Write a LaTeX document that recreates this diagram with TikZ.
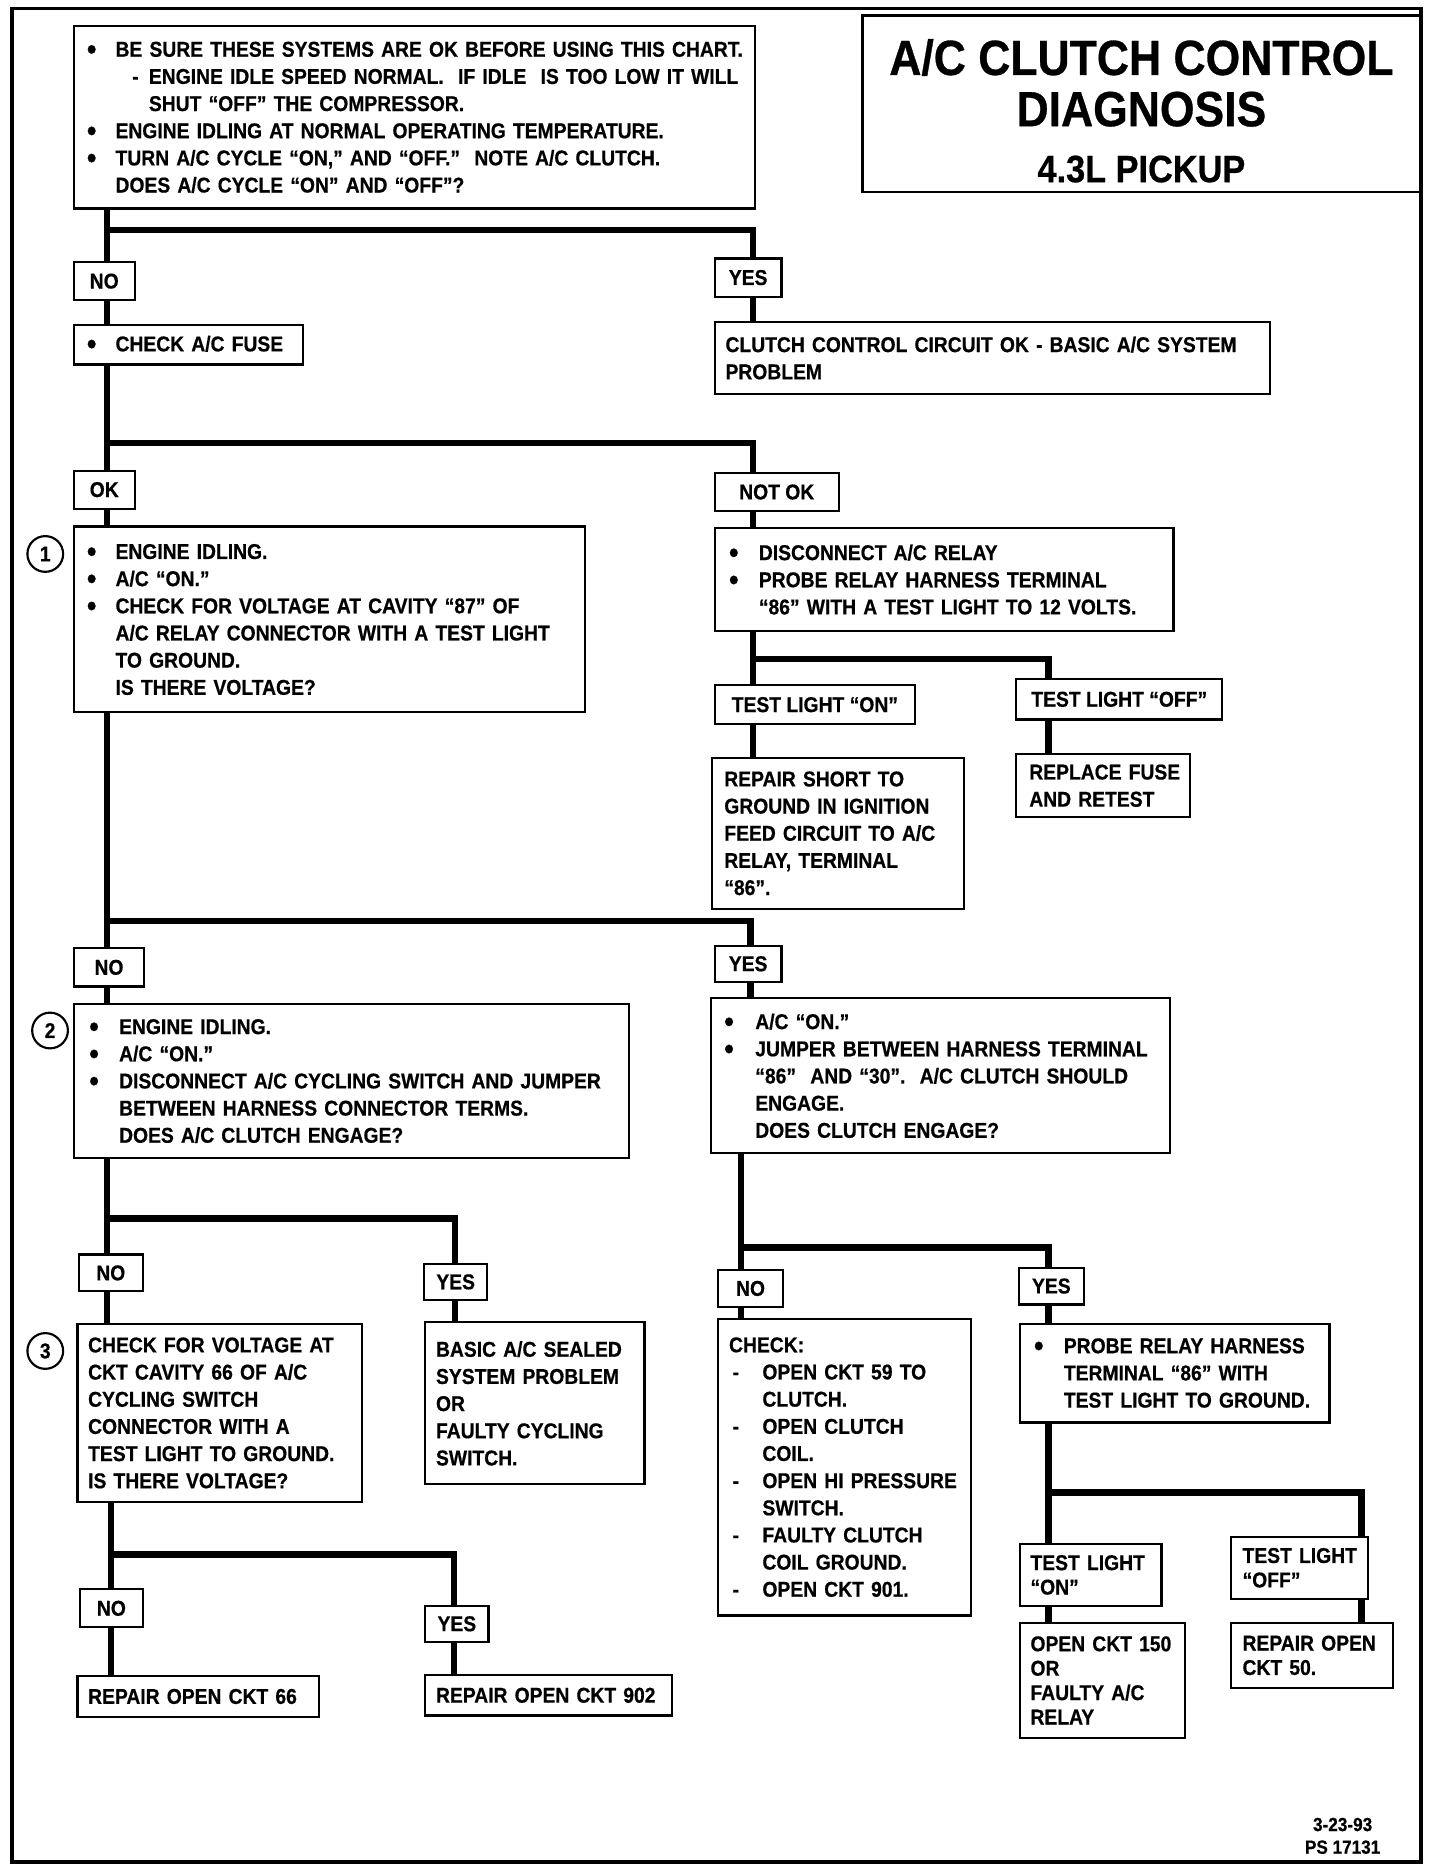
\documentclass[tikz,border=0pt]{standalone}
\usepackage{fontspec}
\usepackage{graphicx}
\setmainfont{Liberation Sans}[FakeStretch=0.9, BoldFeatures={FakeBold=0.6}]
\usetikzlibrary{calc}
\pgfdeclarelayer{bg}
\pgfsetlayers{bg,main}
\newcommand\bul[1][24]{\makebox[#1pt][l]{\raisebox{-2.2pt}{\scalebox{1.4}{•}}}}
\newcommand\ind[1][24]{\hspace*{#1pt}}
\newcommand\dsh{\hspace*{3pt}\makebox[25pt][l]{-}}
\newcommand\bt[2]{\leftskip=#1pt\relax #2\par}
\begin{document}
\begin{tikzpicture}[x=1pt,y=-1pt,
  txt/.style={font=\bfseries\fontsize{18}{22.8}\selectfont},
  tight/.style={font=\bfseries\fontsize{18}{20.5}\selectfont},
  box/.style={txt, draw, fill=white, line width=1.8pt, anchor=north west, inner sep=0pt, outer sep=0pt, align=left},
  lbl/.style={txt, draw, fill=white, line width=1.8pt, anchor=north west, inner sep=0pt, outer sep=0pt, align=center},
  trunk/.style={line width=5.5pt, line cap=rect, line join=miter},
  num/.style={txt, circle, draw, fill=white, line width=1.8pt, minimum size=30pt, inner sep=0pt}
]
\useasboundingbox (0,0) rectangle (1209,1568);
\draw[line width=3pt] (10,7) rectangle (1193,1563);

% title
\node[draw, line width=2.2pt, anchor=north west, minimum width=468pt, minimum height=148pt, inner sep=0pt, align=center, font=\bfseries\fontsize{41.5}{43}\selectfont] (title) at (723,12) {\rule{0pt}{42pt}A/C CLUTCH CONTROL\\DIAGNOSIS\\[4pt]{\fontsize{32}{40}\selectfont 4.3L PICKUP}};

% first level
\node[box, text width=572pt, minimum height=153pt] (top) at (62,22) {\bt{11}{\bul BE SURE THESE SYSTEMS ARE OK BEFORE USING THIS CHART.\\
\ind[38]\makebox[14pt][l]{-}ENGINE IDLE SPEED NORMAL.\ \ IF IDLE\ \ IS TOO LOW IT WILL\\
\ind[52]SHUT “OFF” THE COMPRESSOR.\\
\bul ENGINE IDLING AT NORMAL OPERATING TEMPERATURE.\\
\bul TURN A/C CYCLE “ON,” AND “OFF.”\ \ NOTE A/C CLUTCH.\\
\ind DOES A/C CYCLE “ON” AND “OFF”?}};

\node[lbl, minimum width=51pt, minimum height=32pt] (no1) at (62,220) {NO};
\node[lbl, minimum width=56pt, minimum height=32pt] (yes1) at (600,217) {YES};
\node[box, text width=192pt, minimum height=33pt] (fuse) at (62,273) {\bt{11}{\bul CHECK A/C FUSE}};
\node[box, text width=466pt, minimum height=61pt] (clutch) at (600,270) {\bt{9}{CLUTCH CONTROL CIRCUIT OK - BASIC A/C SYSTEM\\PROBLEM}};

\node[lbl, minimum width=51pt, minimum height=32pt] (ok) at (62,395) {OK};
\node[lbl, minimum width=104pt, minimum height=32pt] (notok) at (600,397) {NOT OK};

\node[box, text width=429pt, minimum height=156pt] (chk87) at (62,442) {\bt{11}{\bul ENGINE IDLING.\\\bul A/C “ON.”\\\bul CHECK FOR VOLTAGE AT CAVITY “87” OF\\\ind A/C RELAY CONNECTOR WITH A TEST LIGHT\\\ind TO GROUND.\\\ind IS THERE VOLTAGE?}};
\node[num] (n1) at (38,465) {1};

\node[box, text width=385pt, minimum height=87pt] (relay) at (600,443) {\bt{12}{\bul[25]DISCONNECT A/C RELAY\\\bul[25]PROBE RELAY HARNESS TERMINAL\\\ind[25]“86” WITH A TEST LIGHT TO 12 VOLTS.}};
\node[lbl, minimum width=168pt, minimum height=33pt] (tlon) at (600,575) {TEST LIGHT “ON”};
\node[lbl, minimum width=173pt, minimum height=34pt] (tloff) at (853,570) {TEST LIGHT “OFF”};
\node[box, text width=211pt, minimum height=127pt] (short) at (598,636) {\bt{10}{REPAIR SHORT TO\\GROUND IN IGNITION\\FEED CIRCUIT TO A/C\\RELAY, TERMINAL\\“86”.}};
\node[box, text width=146pt, minimum height=53pt] (refuse) at (853,633) {\bt{11}{REPLACE FUSE\\AND RETEST}};

% third level
\node[lbl, minimum width=59pt, minimum height=32pt] (no3) at (62,796) {NO};
\node[lbl, minimum width=56pt, minimum height=30pt] (yes3) at (600,794) {YES};
\node[box, text width=466pt, minimum height=129pt] (cyc) at (62,843) {\bt{13}{\bul[25]ENGINE IDLING.\\\bul[25]A/C “ON.”\\\bul[25]DISCONNECT A/C CYCLING SWITCH AND JUMPER\\\ind[25]BETWEEN HARNESS CONNECTOR TERMS.\\\ind[25]DOES A/C CLUTCH ENGAGE?}};
\node[num] (n2) at (42,865) {2};
\node[box, text width=385pt, minimum height=130pt] (jump) at (597,838) {\bt{11}{\bul[26]A/C “ON.”\\\bul[26]JUMPER BETWEEN HARNESS TERMINAL\\\ind[26]“86”\ \ AND “30”.\ \ A/C CLUTCH SHOULD\\\ind[26]ENGAGE.\\\ind[26]DOES CLUTCH ENGAGE?}};

% fourth level
\node[lbl, minimum width=54pt, minimum height=31pt] (no4) at (66,1053) {NO};
\node[lbl, minimum width=53pt, minimum height=30pt] (yes4) at (356,1061) {YES};
\node[lbl, minimum width=54pt, minimum height=31pt] (no5) at (603,1066) {NO};
\node[lbl, minimum width=55pt, minimum height=31pt] (yes5) at (855,1064) {YES};

\node[box, text width=239pt, minimum height=150pt] (cav66) at (65,1111) {\bt{9}{CHECK FOR VOLTAGE AT\\CKT CAVITY 66 OF A/C\\CYCLING SWITCH\\CONNECTOR WITH A\\TEST LIGHT TO GROUND.\\IS THERE VOLTAGE?}};
\node[num] (n3) at (38,1134) {3};
\node[box, text width=184pt, minimum height=136pt] (basic) at (357,1110) {\bt{9}{BASIC A/C SEALED\\SYSTEM PROBLEM\\OR\\FAULTY CYCLING\\SWITCH.}};
\node[box, text width=212pt, minimum height=249pt] (check) at (603,1107) {\bt{9}{CHECK:\\\dsh OPEN CKT 59 TO\\\ind[28]CLUTCH.\\\dsh OPEN CLUTCH\\\ind[28]COIL.\\\dsh OPEN HI PRESSURE\\\ind[28]SWITCH.\\\dsh FAULTY CLUTCH\\\ind[28]COIL GROUND.\\\dsh OPEN CKT 901.}};
\node[box, text width=260pt, minimum height=83pt] (probe) at (856,1111) {\bt{12}{\bul[25]PROBE RELAY HARNESS\\\ind[25]TERMINAL “86” WITH\\\ind[25]TEST LIGHT TO GROUND.}};

\node[box, tight, text width=119pt, minimum height=52pt] (tlon2) at (856,1296) {\bt{9}{TEST LIGHT\\“ON”}};
\node[box, tight, text width=115pt, minimum height=52pt] (tloff2) at (1033,1290) {\bt{10}{TEST LIGHT\\“OFF”}};
\node[box, tight, text width=139pt, minimum height=97pt] (c150) at (856,1362) {\bt{9}{OPEN CKT 150\\OR\\FAULTY A/C\\RELAY}};
\node[box, tight, text width=136pt, minimum height=55pt] (c50) at (1033,1362) {\bt{10}{REPAIR OPEN\\CKT 50.}};

\node[lbl, minimum width=53pt, minimum height=32pt] (no7) at (67,1334) {NO};
\node[lbl, minimum width=53pt, minimum height=30pt] (yes7) at (357,1348) {YES};
\node[box, text width=203pt, minimum height=34pt] (r66) at (65,1407) {\bt{9}{REPAIR OPEN CKT 66}};
\node[box, text width=207pt, minimum height=34pt] (r902) at (357,1406) {\bt{9}{REPAIR OPEN CKT 902}};

\node[font=\bfseries\fontsize{16}{19}\selectfont, align=center] (date) at (1127,1541) {3-23-93\\PS 17131};

% trunk x positions and branch points
\coordinate (xL) at (90,0);
\coordinate (xL3) at (93,0);
\coordinate (xR2) at (622,0);
\coordinate (b1) at (632,193);
\coordinate (b2) at (632,372);
\coordinate (b3) at (880,553);
\coordinate (b4) at (630,773);
\coordinate (b5) at (382,1023);
\coordinate (b6) at (880,1047);
\coordinate (b7) at (1143,1253);
\coordinate (b8) at (381,1305);

\begin{pgfonlayer}{bg}
\draw[trunk] (top.south -| xL) -- (no1.north -| xL);
\draw[trunk] (no1.south -| xL) -- (fuse.north -| xL);
\draw[trunk] (b1 -| xL) -- (b1) -- (yes1.north -| b1);
\draw[trunk] (yes1.south -| b1) -- (clutch.north -| b1);
\draw[trunk] (fuse.south -| xL) -- (ok.north -| xL);
\draw[trunk] (ok.south -| xL) -- (chk87.north -| xL);
\draw[trunk] (b2 -| xL) -- (b2) -- (notok.north -| b2);
\draw[trunk] (notok.south -| b2) -- (relay.north -| b2);
\draw[trunk] (relay.south -| b2) -- (tlon.north -| b2);
\draw[trunk] (tlon.south -| b2) -- (short.north -| b2);
\draw[trunk] (b3 -| b2) -- (b3) -- (tloff.north -| b3);
\draw[trunk] (tloff.south -| b3) -- (refuse.north -| b3);
\draw[trunk] (chk87.south -| xL) -- (no3.north -| xL);
\draw[trunk] (no3.south -| xL) -- (cyc.north -| xL);
\draw[trunk] (b4 -| xL) -- (b4) -- (yes3.north -| b4);
\draw[trunk] (yes3.south -| b4) -- (jump.north -| b4);
\draw[trunk] (jump.south -| xR2) -- (no5.north -| xR2);
\draw[trunk] (no5.south -| xR2) -- (check.north -| xR2);
\draw[trunk] (b6 -| xR2) -- (b6) -- (yes5.north -| b6);
\draw[trunk] (yes5.south -| b6) -- (probe.north -| b6);
\draw[trunk] (probe.south -| b6) -- (tlon2.north -| b6);
\draw[trunk] (tlon2.south -| b6) -- (c150.north -| b6);
\draw[trunk] (b7 -| b6) -- (b7) -- (tloff2.north -| b7);
\draw[trunk] (tloff2.south -| b7) -- (c50.north -| b7);
\draw[trunk] (cyc.south -| xL) -- (no4.north -| xL);
\draw[trunk] (no4.south -| xL) -- (cav66.north -| xL);
\draw[trunk] (b5 -| xL) -- (b5) -- (yes4.north -| b5);
\draw[trunk] (yes4.south -| b5) -- (basic.north -| b5);
\draw[trunk] (cav66.south -| xL3) -- (no7.north -| xL3);
\draw[trunk] (no7.south -| xL3) -- (r66.north -| xL3);
\draw[trunk] (b8 -| xL3) -- (b8) -- (yes7.north -| b8);
\draw[trunk] (yes7.south -| b8) -- (r902.north -| b8);
\end{pgfonlayer}
\end{tikzpicture}
\end{document}
